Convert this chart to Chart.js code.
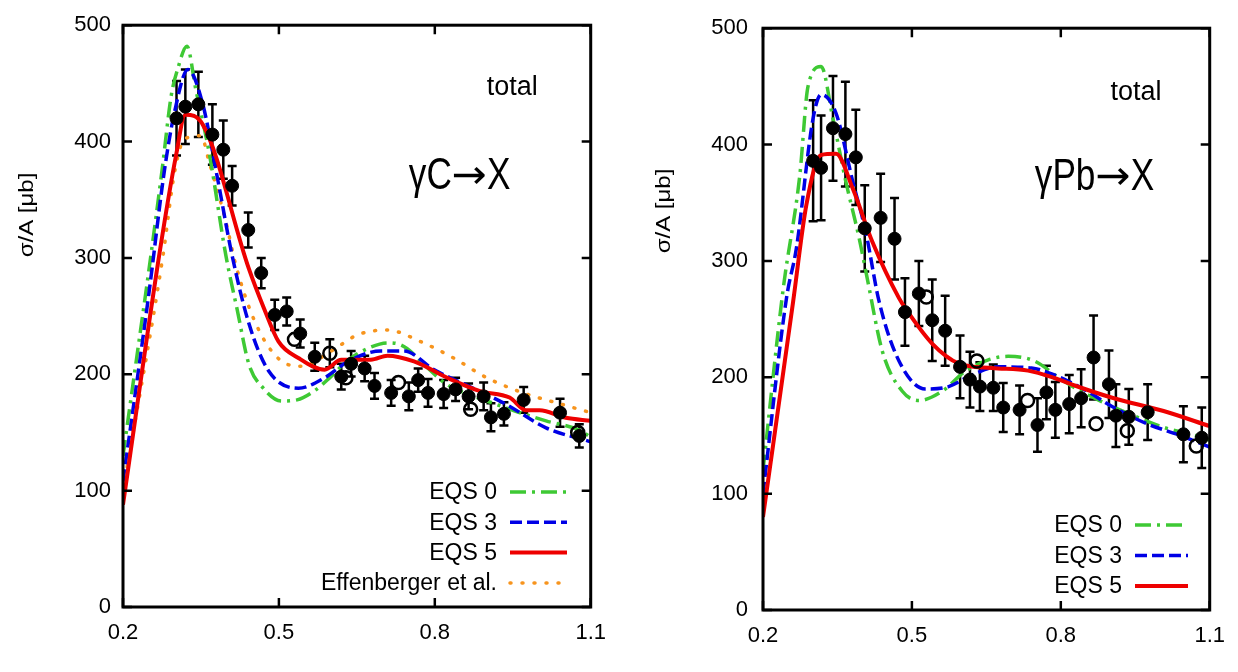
<!DOCTYPE html>
<html>
<head>
<meta charset="utf-8">
<script src="https://cdn.jsdelivr.net/npm/chart.js@4.4.1/dist/chart.umd.min.js"></script>
<style>
  html, body { margin: 0; padding: 0; background: #fff; }
  #wrap { position: relative; width: 1238px; height: 672px; }
  .panel { position: absolute; top: 0; width: 619px; height: 672px; }
</style>
</head>
<body>
<div id="wrap">
  <div class="panel" style="left:0"><canvas id="chartC" width="619" height="672"></canvas></div>
  <div class="panel" style="left:619px"><canvas id="chartPb" width="619" height="672"></canvas></div>
</div>
<script>
const xTicks = [0.2, 0.5, 0.8, 1.1];
const yTicks = [0, 100, 200, 300, 400, 500];

// gamma C -> X : data (filled), data (open), model curves
const cDataX = [0.303, 0.320, 0.345, 0.372, 0.393, 0.410, 0.441, 0.466, 0.492, 0.515, 0.541, 0.569, 0.620, 0.639, 0.665, 0.684, 0.716, 0.750, 0.768, 0.787, 0.817, 0.840, 0.865, 0.894, 0.908, 0.933, 0.971, 1.041, 1.078];
const cDataY = [420, 430, 432, 406, 393, 362, 324, 287, 251, 254, 235, 215, 198, 209, 205, 190, 184, 181, 195, 184, 183, 187, 181, 181, 163, 166, 178, 167, 147];
const cDataErr = [32, 32, 28, 26, 25, 17, 15, 13, 13, 12, 12, 12, 11, 11, 11, 11, 11, 12, 10, 12, 12, 10, 11, 12, 12, 10, 11, 12, 10];
const cOpenX = [0.530, 0.598, 0.629, 0.730, 0.869, 1.075];
const cOpenY = [230, 218, 197, 193, 170, 150];
const cOpenErr = [0, 12, 0, 0, 0, 0];

const cEqs0X = [0.2, 0.225, 0.25, 0.275, 0.293, 0.305, 0.323, 0.34, 0.366, 0.398, 0.42, 0.442, 0.47, 0.505, 0.535, 0.569, 0.6, 0.633, 0.67, 0.709, 0.73, 0.747, 0.78, 0.824, 0.87, 0.919, 0.97, 1.014, 1.078, 1.1];
const cEqs0Y = [130, 210, 290, 375, 440, 462, 482, 445, 390, 302, 255, 209, 188, 177, 178, 186, 198, 212, 222, 227, 226, 222, 208, 191, 182, 174, 166, 160, 152, 146];
const cEqs3X = [0.2, 0.25, 0.28, 0.299, 0.325, 0.353, 0.382, 0.41, 0.442, 0.48, 0.5375, 0.588, 0.633, 0.696, 0.741, 0.798, 0.874, 0.938, 1.014, 1.1];
const cEqs3Y = [108, 270, 376, 425, 462, 433, 368, 302, 244, 203, 188, 197, 211, 220, 220, 204, 188, 174, 154, 142];
const cEqs5X = [0.2, 0.2706, 0.302, 0.32, 0.353, 0.442, 0.471, 0.4994, 0.5375, 0.588, 0.62, 0.677, 0.709, 0.76, 0.824, 0.887, 0.944, 0.976, 1.0015, 1.052, 1.1];
const cEqs5Y = [88, 305, 388, 423, 415, 291, 257, 228, 214, 204, 212.5, 212.5, 216, 211, 197, 185.5, 180, 169, 169, 162.6, 160];
const cEffX = [0.2, 0.277, 0.299, 0.318, 0.35, 0.366, 0.398, 0.417, 0.455, 0.503, 0.544, 0.601, 0.652, 0.709, 0.773, 0.836, 0.9, 0.97, 1.046, 1.1];
const cEffY = [100, 302, 373, 402, 405, 382, 331, 294, 244, 212, 207, 220, 234, 238, 228, 214, 197, 184, 174, 167];

// gamma Pb -> X
const pbDataX = [0.301, 0.317, 0.341, 0.366, 0.387, 0.405, 0.437, 0.465, 0.486, 0.514, 0.541, 0.567, 0.597, 0.617, 0.637, 0.664, 0.684, 0.717, 0.753, 0.771, 0.789, 0.817, 0.841, 0.866, 0.897, 0.911, 0.937, 0.975, 1.047, 1.084];
const pbDataY = [386, 380, 414, 409, 389, 328, 337, 319, 256, 272, 249, 240, 209, 198, 192, 191, 174, 172, 159, 187, 172, 177, 182, 217, 194, 167, 166, 170, 151, 148];
const pbDataErr = [52, 45, 45, 45, 41, 37, 38, 35, 29, 28, 35, 30, 27, 24, 21, 20, 21, 21, 23, 23, 24, 25, 25, 36, 29, 27, 24, 24, 24, 26];
const pbOpenX = [0.529, 0.631, 0.733, 0.871, 0.934, 1.073];
const pbOpenY = [269, 214, 180, 160, 154, 141];
const pbOpenErr = [0, 0, 0, 0, 0, 0];

const pbEqs0X = [0.2, 0.2407, 0.274, 0.2907, 0.317, 0.341, 0.367, 0.394, 0.41, 0.4407, 0.4807, 0.514, 0.561, 0.607, 0.654, 0.694, 0.747, 0.801, 0.854, 0.941, 1.007, 1.087, 1.1];
const pbEqs0Y = [120, 276, 373, 450, 467, 422, 368, 319, 285, 222, 188, 180, 188, 205, 215, 218, 214, 198, 185, 168, 157, 148, 146];
const pbEqs3X = [0.2, 0.2473, 0.2673, 0.3007, 0.317, 0.347, 0.381, 0.407, 0.434, 0.474, 0.527, 0.574, 0.621, 0.674, 0.741, 0.787, 0.841, 0.907, 0.974, 1.041, 1.1];
const pbEqs3Y = [100, 268, 311, 422, 443, 427, 368, 325, 265, 214, 190, 192, 202, 209, 208, 202, 191, 174, 160, 150, 140];
const pbEqs5X = [0.2, 0.2607, 0.2873, 0.317, 0.347, 0.381, 0.4207, 0.474, 0.4873, 0.5407, 0.594, 0.661, 0.734, 0.787, 0.841, 0.907, 1.007, 1.1];
const pbEqs5Y = [80, 265, 348, 391, 392, 362, 316, 268, 259, 229, 212, 208, 205.7, 199.4, 191, 182, 171, 158];

const FONT = '"Liberation Sans", Arial, sans-serif';
const ARROW_FONT = '"DejaVu Sans", sans-serif';
const GREEN = '#3ec934';
const BLUE = '#0000e6';
const RED = '#ee0000';
const ORANGE = '#f7941d';

function pts(xs, ys) {
    return xs.map((x, i) => ({ x: x, y: ys[i] }));
}

const annotatePlugin = {
    id: 'annotate',
    beforeDatasetsDraw(chart) {
        const ctx = chart.ctx;
        const xs = chart.scales.x, ys = chart.scales.y;
        ctx.save();
        ctx.strokeStyle = '#000';
        ctx.lineWidth = 2.5;
        chart.data.datasets.forEach(ds => {
            if (!ds.errors) return;
            ds.data.forEach((p, i) => {
                const e = ds.errors[i];
                if (!e) return;
                const px = xs.getPixelForValue(p.x);
                const top = ys.getPixelForValue(p.y + e);
                const bot = ys.getPixelForValue(p.y - e);
                ctx.beginPath();
                ctx.moveTo(px, top); ctx.lineTo(px, bot);
                ctx.moveTo(px - 4.5, top); ctx.lineTo(px + 4.5, top);
                ctx.moveTo(px - 4.5, bot); ctx.lineTo(px + 4.5, bot);
                ctx.stroke();
            });
        });
        ctx.restore();
    },
    afterDraw(chart, args, opts) {
        const ctx = chart.ctx;
        const area = chart.chartArea;
        const xs = chart.scales.x, ys = chart.scales.y;
        ctx.save();
        // frame and inward ticks on all sides
        ctx.strokeStyle = '#000';
        ctx.lineWidth = 3;
        ctx.strokeRect(area.left, area.top, area.right - area.left, area.bottom - area.top);
        ctx.lineWidth = 2.5;
        ctx.beginPath();
        xTicks.forEach(v => {
            const px = xs.getPixelForValue(v);
            ctx.moveTo(px, area.bottom); ctx.lineTo(px, area.bottom - 9);
            ctx.moveTo(px, area.top); ctx.lineTo(px, area.top + 9);
        });
        yTicks.forEach(v => {
            const py = ys.getPixelForValue(v);
            ctx.moveTo(area.left, py); ctx.lineTo(area.left + 9, py);
            ctx.moveTo(area.right, py); ctx.lineTo(area.right - 9, py);
        });
        ctx.stroke();

        // y axis title
        ctx.fillStyle = '#000';
        ctx.save();
        ctx.translate(opts.yTitle.x, opts.yTitle.y);
        ctx.scale(0.85, 1);
        ctx.rotate(-Math.PI / 2);
        ctx.font = '24px ' + FONT;
        ctx.textAlign = 'center';
        ctx.textBaseline = 'middle';
        ctx.fillText('σ/A [μb]', 0, 0);
        ctx.restore();

        // labels inside the plot, built from parts so the arrow can use another font
        ctx.textAlign = 'left';
        ctx.textBaseline = 'alphabetic';
        opts.texts.forEach(t => {
            const widths = t.parts.map(p => {
                ctx.font = p.size + 'px ' + (p.family || FONT);
                return ctx.measureText(p.t).width * p.sx;
            });
            const total = widths.reduce((a, b) => a + b, 0);
            let px = xs.getPixelForValue(t.x) - (t.align === 'right' ? total : 0);
            const py = ys.getPixelForValue(t.y);
            t.parts.forEach((p, i) => {
                ctx.save();
                ctx.translate(px, py + (p.dy || 0));
                ctx.scale(p.sx, 1);
                ctx.font = p.size + 'px ' + (p.family || FONT);
                ctx.fillText(p.t, 0, 0);
                ctx.restore();
                px += widths[i];
            });
        });

        // legend: text then line sample
        const lg = opts.legend;
        ctx.font = '23px ' + FONT;
        ctx.textAlign = 'right';
        ctx.textBaseline = 'middle';
        let row = 0;
        chart.data.datasets.forEach(ds => {
            if (!ds.legendLabel) return;
            const yy = lg.y + row * lg.rowH;
            ctx.fillStyle = '#000';
            ctx.fillText(ds.legendLabel, lg.textRight, yy + 1);
            ctx.save();
            ctx.strokeStyle = ds.borderColor;
            ctx.lineWidth = ds.borderWidth;
            ctx.lineCap = ds.borderCapStyle || 'butt';
            ctx.setLineDash(ds.borderDash || []);
            ctx.beginPath();
            ctx.moveTo(lg.x0, yy); ctx.lineTo(lg.x1, yy);
            ctx.stroke();
            ctx.restore();
            row++;
        });
        ctx.restore();
    }
};

function pointSets(dx, dy, derr, ox, oy, oerr) {
    return [
        {
            data: pts(dx, dy), errors: derr, showLine: false, order: 0,
            pointRadius: 6.5, pointBackgroundColor: '#000', pointBorderColor: '#000', pointBorderWidth: 1
        },
        {
            data: pts(ox, oy), errors: oerr, showLine: false, order: 1,
            pointRadius: 6.5, pointBackgroundColor: 'rgba(0,0,0,0)', pointBorderColor: '#000', pointBorderWidth: 2.5
        }
    ];
}

function curve(xs, ys, label, color, dash, order, cap) {
    return {
        data: pts(xs, ys), legendLabel: label, order: order,
        borderColor: color, borderWidth: color === RED ? 4 : 3.5, borderDash: dash,
        borderCapStyle: cap || 'butt', borderJoinStyle: 'round',
        pointRadius: 0, fill: false, cubicInterpolationMode: 'monotone'
    };
}

function bigLabel(first, x, y) {
    return {
        x: x, y: y, align: 'right',
        parts: [
            { t: first, size: 44, sx: 0.8 },
            { t: '→', size: 40, sx: 1.05, family: ARROW_FONT, dy: -1 },
            { t: 'X', size: 44, sx: 0.8 }
        ]
    };
}

function makeOptions(cfg) {
    return {
        responsive: false,
        animation: false,
        events: [],
        layout: { padding: cfg.padding },
        scales: {
            x: {
                type: 'linear', min: 0.2, max: 1.1,
                afterBuildTicks: s => { s.ticks = xTicks.map(v => ({ value: v })); },
                afterFit: s => { s.height = cfg.xHeight; },
                grid: { display: false, drawTicks: false },
                border: { display: false },
                ticks: { color: '#000', font: { family: FONT, size: 22 }, padding: 13, maxRotation: 0, callback: v => String(v) }
            },
            y: {
                type: 'linear', min: 0, max: 500,
                afterBuildTicks: s => { s.ticks = yTicks.map(v => ({ value: v })); },
                afterFit: s => { s.width = cfg.yWidth; },
                grid: { display: false, drawTicks: false },
                border: { display: false },
                ticks: { color: '#000', font: { family: FONT, size: 22 }, padding: cfg.yPad, callback: v => String(v) }
            }
        },
        plugins: {
            legend: { display: false },
            tooltip: { enabled: false },
            annotate: { yTitle: cfg.yTitle, texts: cfg.texts, legend: cfg.legend }
        }
    };
}

new Chart(document.getElementById('chartC'), {
    type: 'line',
    data: {
        datasets: pointSets(cDataX, cDataY, cDataErr, cOpenX, cOpenY, cOpenErr).concat([
            curve(cEqs0X, cEqs0Y, 'EQS 0', GREEN, [16, 6, 3, 6], 4),
            curve(cEqs3X, cEqs3Y, 'EQS 3', BLUE, [12, 5], 3),
            curve(cEqs5X, cEqs5Y, 'EQS 5', RED, [], 2),
            curve(cEffX, cEffY, 'Effenberger et al.', ORANGE, [1, 11], 5, 'round')
        ])
    },
    options: makeOptions({
        padding: { left: 0, right: 24, top: 22, bottom: 0 },
        xHeight: 65, yWidth: 123, yPad: 12,
        yTitle: { x: 27, y: 215 },
        texts: [
            { x: 0.9, y: 440, align: 'left', parts: [{ t: 'total', size: 27, sx: 1 }] },
            bigLabel('γC', 0.9456, 359)
        ],
        legend: { textRight: 497, x0: 510, x1: 567, y: 492, rowH: 30.3 }
    }),
    plugins: [annotatePlugin]
});

new Chart(document.getElementById('chartPb'), {
    type: 'line',
    data: {
        datasets: pointSets(pbDataX, pbDataY, pbDataErr, pbOpenX, pbOpenY, pbOpenErr).concat([
            curve(pbEqs0X, pbEqs0Y, 'EQS 0', GREEN, [16, 6, 3, 6], 4),
            curve(pbEqs3X, pbEqs3Y, 'EQS 3', BLUE, [12, 5], 3),
            curve(pbEqs5X, pbEqs5Y, 'EQS 5', RED, [], 2)
        ])
    },
    options: makeOptions({
        padding: { left: 0, right: 25, top: 25, bottom: 0 },
        xHeight: 62, yWidth: 144, yPad: 15,
        yTitle: { x: 45, y: 211 },
        texts: [
            { x: 0.9, y: 438.5, align: 'left', parts: [{ t: 'total', size: 27, sx: 1 }] },
            bigLabel('γPb', 0.988, 360.7)
        ],
        legend: { textRight: 503, x0: 516, x1: 569, y: 525, rowH: 30.5 }
    }),
    plugins: [annotatePlugin]
});
</script>
</body>
</html>
